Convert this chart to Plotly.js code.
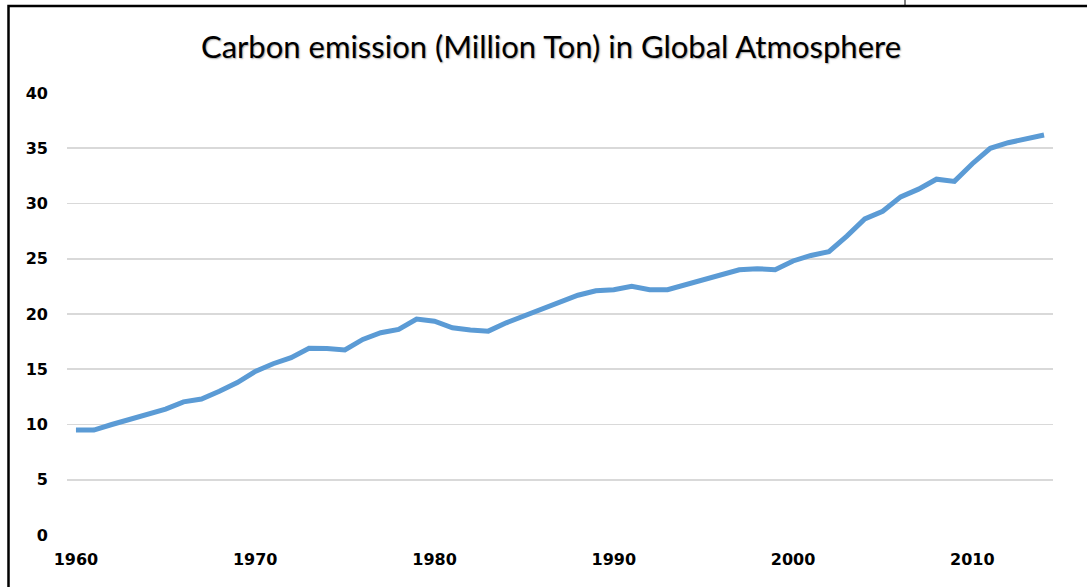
<!DOCTYPE html>
<html>
<head>
<meta charset="utf-8">
<script src="https://cdn.plot.ly/plotly-3.0.1.min.js"></script>
<style>
  html, body { margin: 0; padding: 0; background: #ffffff; overflow: hidden; }
  #chart { width: 1087px; height: 587px; }
  #chart .gtitle { text-shadow: 1px 1px 1.5px rgba(0,0,0,0.35); }
</style>
</head>
<body>
<div id="chart"></div>
<script>
// Data
const years = [1960,1961,1962,1963,1964,1965,1966,1967,1968,1969,
               1970,1971,1972,1973,1974,1975,1976,1977,1978,1979,
               1980,1981,1982,1983,1984,1985,1986,1987,1988,1989,
               1990,1991,1992,1993,1994,1995,1996,1997,1998,1999,
               2000,2001,2002,2003,2004,2005,2006,2007,2008,2009,
               2010,2011,2012,2013,2014];
const emissions = [9.5,9.5,10.0,10.45,11.0,11.4,12.05,12.3,13.0,13.8,
                   14.8,15.5,16.05,16.9,16.87,16.75,17.7,18.3,18.6,19.55,
                   19.35,18.75,18.55,18.45,19.2,19.8,20.45,21.0,21.7,22.1,
                   22.2,22.5,22.2,22.2,22.65,23.1,23.6,24.0,24.1,24.0,
                   24.8,25.3,25.65,27.05,28.6,29.3,30.6,31.3,32.2,32.0,
                   33.6,35.0,35.5,35.9,36.2];
const xTicks = [1960,1970,1980,1990,2000,2010];
const yTicks = [0,5,10,15,20,25,30,35,40];
const titleText = "Carbon emission (Million Ton) in Global Atmosphere";

const W = 1087, H = 587;
const mL = 67, mR = 34, mT = 93, mB = 52;
const pw = W - mL - mR, ph = H - mT - mB;
function px(x) { return (x - mL) / pw; }
function py(y) { return (H - mB - y) / ph; }

const trace = {
  x: years,
  y: emissions,
  type: 'scatter',
  mode: 'lines',
  line: { color: '#5b9bd5', width: 5, shape: 'linear' },
  hoverinfo: 'x+y'
};

const layout = {
  width: W, height: H,
  margin: { l: mL, r: mR, t: mT, b: mB, pad: 0 },
  paper_bgcolor: '#ffffff',
  plot_bgcolor: '#ffffff',
  showlegend: false,
  title: {
    text: titleText,
    font: { family: 'Lato, "Open Sans", sans-serif', size: 31, color: '#000000' },
    x: 551 / W, xref: 'container', xanchor: 'center',
    y: 1 - 47 / H, yref: 'container', yanchor: 'middle'
  },
  xaxis: {
    range: [1959.5, 2014.5],
    tickvals: xTicks,
    ticktext: xTicks.map(String),
    showgrid: false,
    zeroline: false,
    showline: false,
    ticks: '',
    ticklabelstandoff: 13,
    tickfont: { family: '"DejaVu Sans", Verdana, sans-serif', size: 16, color: '#000000', weight: 'bold' },
    fixedrange: true
  },
  yaxis: {
    range: [0, 40],
    tickvals: yTicks,
    ticktext: yTicks.map(String),
    showgrid: true,
    gridcolor: '#d9d9d9',
    gridwidth: 1.8,
    zeroline: false,
    showline: false,
    ticks: '',
    ticklabelstandoff: 18,
    tickfont: { family: '"DejaVu Sans", Verdana, sans-serif', size: 16, color: '#000000', weight: 'bold' },
    fixedrange: true
  },
  shapes: [
    {
      type: 'path', xref: 'paper', yref: 'paper',
      path: 'M ' + px(8.5) + ' ' + py(H + 5) + ' L ' + px(8.5) + ' ' + py(6) + ' L ' + px(W + 5) + ' ' + py(6),
      line: { color: '#000000', width: 2.5 }
    },
    {
      type: 'line', xref: 'paper', yref: 'paper',
      x0: px(905), x1: px(905), y0: py(0), y1: py(6),
      line: { color: '#000000', width: 1 }
    }
  ]
};

Plotly.newPlot('chart', [trace], layout, { displayModeBar: false, staticPlot: true });
</script>
</body>
</html>
